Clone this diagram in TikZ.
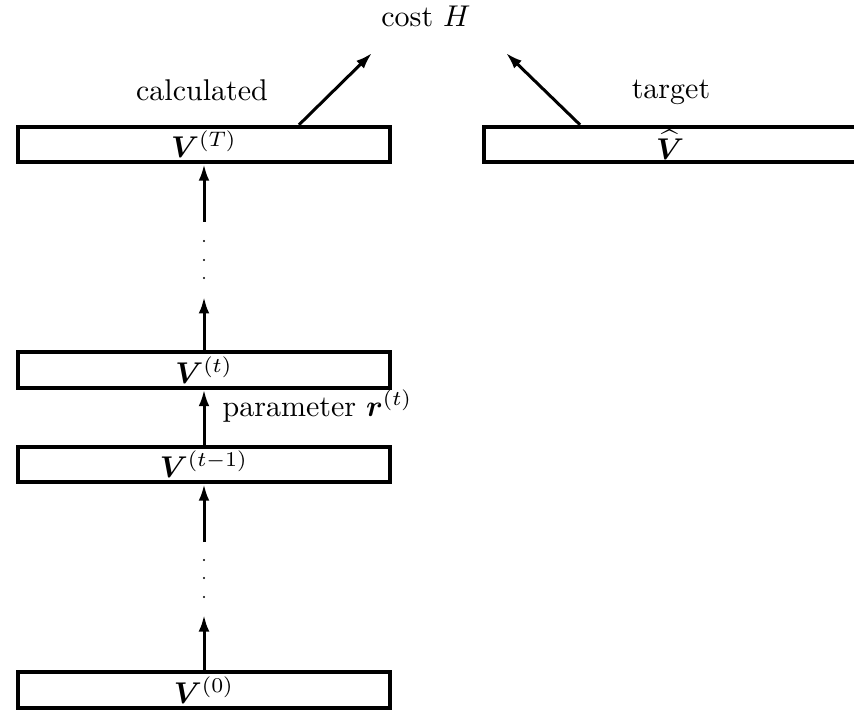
\documentclass[tikz,border=0pt]{standalone}
\usepackage{amsmath,bm}
\usetikzlibrary{arrows.meta}
\begin{document}
\begin{tikzpicture}[x=0.3333pt,y=-0.3333pt,
  layer/.style={draw, line width=1.33pt, rectangle, inner sep=0pt,
                minimum width=124.3pt, minimum height=11.8pt, text depth=0pt},
  flow/.style={line width=1pt, -{Latex[length=5.5pt,width=3.6pt]}},
  label/.style={inner sep=0pt, anchor=base}]
\useasboundingbox (0,0) rectangle (854,713);
\clip (0,0) rectangle (854,713);

% layers of the iteration
\node[layer] (VT)   at (204,144.5) {$\bm{V}^{(T)}$};
\node[layer] (Vt)   at (204,370)   {$\bm{V}^{(t)}$};
\node[layer] (Vt1)  at (204,464.5) {$\bm{V}^{(t-1)}$};
\node[layer] (V0)   at (204,690)   {$\bm{V}^{(0)}$};
\node[layer] (Vhat) at (670,144.5) {$\widehat{\bm{V}}$};

% labels
\node[label] (cost) at (426,27)  {cost $H$};
\node[label] (calc) at (202,101) {calculated};
\node[label] (tgt)  at (671,99)  {target};
\node[label, anchor=base west] (par) at (222,416) {parameter $\bm{r}^{(t)}$};

% free ends of the connectors
\coordinate (topin)  at (204,222);
\coordinate (topout) at (204,297);
\coordinate (lowin)  at (204,542);
\coordinate (lowout) at (204,615);
\coordinate (ltail)  at (299,0);
\coordinate (rtail)  at (580,0);
\coordinate (ltip)   at (372,53);
\coordinate (rtip)   at (506,53);

% vertical flow
\draw[flow] (VT.south |- topin) -- (VT.south);
\draw[flow] (Vt.north) -- (Vt.north |- topout);
\draw[flow] (Vt1.north) -- (Vt.south);
\draw[flow] (Vt1.south |- lowin) -- (Vt1.south);
\draw[flow] (V0.north) -- (V0.north |- lowout);

% into the cost
\draw[flow] (VT.north -| ltail) -- (ltip);
\draw[flow] (Vhat.north -| rtail) -- (rtip);

% ellipsis dots
\foreach \y in {241,260,278,560,578,597}
  \fill (204,\y) circle (0.35pt);
\end{tikzpicture}
\end{document}
